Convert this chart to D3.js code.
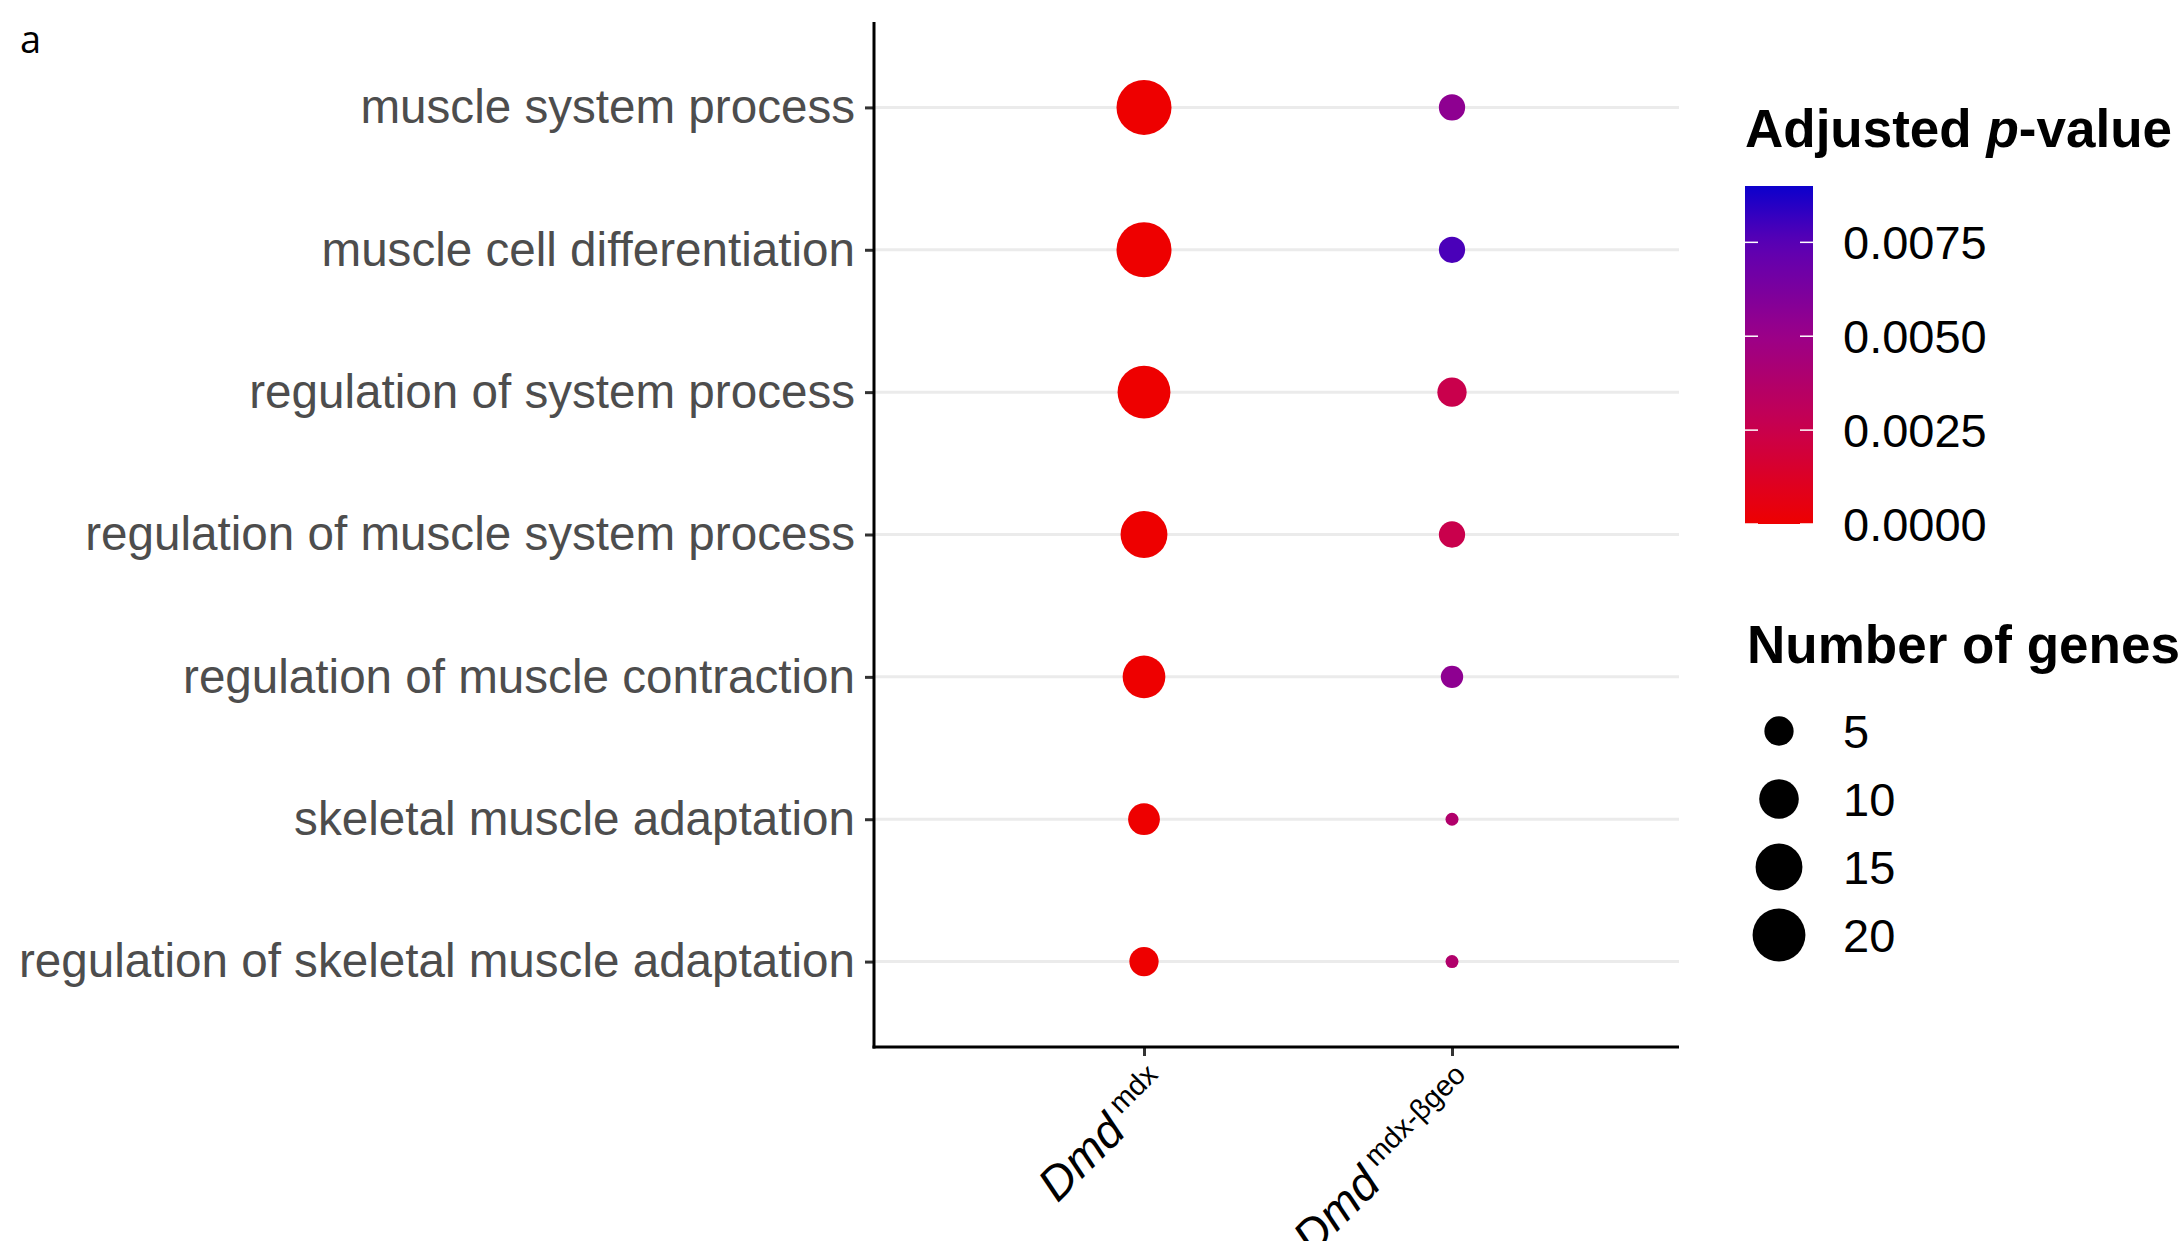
<!DOCTYPE html>
<html>
<head>
<meta charset="utf-8">
<script src="https://cdn.jsdelivr.net/npm/d3@7"></script>
<style>
  html, body { margin: 0; padding: 0; background: #fff; }
  svg { display: block; font-family: "Liberation Sans", Arial, sans-serif; }
</style>
</head>
<body>
<svg id="chart" width="2183" height="1241"></svg>
<script>
// ---------------- data ----------------
const terms = [
  "muscle system process",
  "muscle cell differentiation",
  "regulation of system process",
  "regulation of muscle system process",
  "regulation of muscle contraction",
  "skeletal muscle adaptation",
  "regulation of skeletal muscle adaptation"
];
const groups = ["mdx", "mdx-βgeo"];
const genesMdx     = [22, 22, 20, 15, 12, 6, 5];
const genesMdxBgeo = [4, 4, 5, 4, 3, 2, 2];
const padjMdx      = [0.00001, 0.00001, 0.00001, 0.00001, 0.00001, 0.00001, 0.00001];
const padjMdxBgeo  = [0.0055, 0.0078, 0.0025, 0.0025, 0.0055, 0.0038, 0.0038];
const colorTicks = [0.0000, 0.0025, 0.0050, 0.0075];
const colorMax = 0.009;
const sizeBreaks = [5, 10, 15, 20];
const sizeDomain = [2, 22];

const points = [];
terms.forEach((t, i) => {
  points.push({term: t, group: groups[0], genes: genesMdx[i], padj: padjMdx[i]});
  points.push({term: t, group: groups[1], genes: genesMdxBgeo[i], padj: padjMdxBgeo[i]});
});

// ---------------- layout ----------------
const svg = d3.select("#chart");
const panel = {left: 874, right: 1679, top: 22, bottom: 1047};

const y = d3.scalePoint().domain(terms).range([panel.top, panel.bottom]).padding(0.6);
const x = d3.scalePoint().domain(groups).range([1144, 1452]);

// size: area-proportional mapping between radii
const rScale = d3.scaleSqrt().domain([0, sizeDomain[1] - sizeDomain[0]]).range([0, 21]);
const radius = v => 6.5 + rScale(v - sizeDomain[0]);

const color = d3.scaleLinear()
  .domain([0, 0.0025, 0.005, 0.0075, 0.009])
  .range(["#ee0000", "#c9004c", "#9b0088", "#5a00b4", "#0c00cc"])
  .interpolate(d3.interpolateRgb)
  .clamp(true);

// gridlines
svg.append("g").selectAll("line").data(terms).join("line")
  .attr("x1", panel.left).attr("x2", panel.right)
  .attr("y1", d => y(d)).attr("y2", d => y(d))
  .attr("stroke", "#ebebeb").attr("stroke-width", 3);

// points
svg.append("g").selectAll("circle").data(points).join("circle")
  .attr("cx", d => x(d.group)).attr("cy", d => y(d.term))
  .attr("r", d => radius(d.genes))
  .attr("fill", d => color(d.padj));

// y axis
const yAxis = svg.append("g").attr("transform", `translate(${panel.left},0)`)
  .call(d3.axisLeft(y).tickSize(9).tickPadding(10));
yAxis.select(".domain").remove();
yAxis.selectAll(".tick line").attr("stroke", "#333").attr("stroke-width", 3);
yAxis.selectAll(".tick text").attr("fill", "#4d4d4d")
  .style("font-size", "47.6px").style("font-family", "'Liberation Sans', Arial, sans-serif");

// x axis
const xAxis = svg.append("g").attr("transform", `translate(0,${panel.bottom})`)
  .call(d3.axisBottom(x).tickSize(9).tickFormat(""));
xAxis.select(".domain").remove();
xAxis.selectAll(".tick line").attr("stroke", "#333").attr("stroke-width", 3);

// axis lines
svg.append("line").attr("x1", panel.left).attr("x2", panel.left)
  .attr("y1", panel.top).attr("y2", panel.bottom + 1.5)
  .attr("stroke", "#000").attr("stroke-width", 3);
svg.append("line").attr("x1", panel.left - 1.5).attr("x2", panel.right)
  .attr("y1", panel.bottom).attr("y2", panel.bottom)
  .attr("stroke", "#000").attr("stroke-width", 3);

// x tick labels (rotated, italic Dmd with superscript)
groups.forEach(g => {
  const t = svg.append("text")
    .attr("transform", `translate(${x(g) + 28},${panel.bottom + 42}) rotate(-45)`)
    .attr("text-anchor", "end").attr("fill", "#000");
  t.append("tspan").text("Dmd").style("font-style", "italic").style("font-size", "47px");
  t.append("tspan").text(" " + g).attr("dy", -18).style("font-size", "29px");
});

// panel letter
svg.append("text").attr("x", 20).attr("y", 53).text("a")
  .style("font-family", "'Open Sans', sans-serif").style("font-size", "38px").attr("fill", "#000");

// ---------------- colour legend ----------------
const cb = {x: 1745, w: 68, top: 186, bottom: 524};
const legend = svg.append("g");
legend.append("text").attr("x", cb.x).attr("y", 147)
  .style("font-size", "53px").style("font-weight", "bold")
  .call(t => {
    t.append("tspan").text("Adjusted ");
    t.append("tspan").text("p").style("font-style", "italic");
    t.append("tspan").text("-value");
  });

const cbScale = d3.scaleLinear().domain([0, colorMax]).range([cb.bottom, cb.top]);
const defs = svg.append("defs");
const grad = defs.append("linearGradient").attr("id", "cbgrad")
  .attr("x1", 0).attr("x2", 0).attr("y1", 1).attr("y2", 0);
d3.range(0, 1.0001, 0.05).forEach(s => {
  grad.append("stop").attr("offset", s).attr("stop-color", color(s * colorMax));
});
legend.append("rect").attr("x", cb.x).attr("y", cb.top)
  .attr("width", cb.w).attr("height", cb.bottom - cb.top)
  .attr("fill", "url(#cbgrad)");
colorTicks.forEach(v => {
  const yy = cbScale(v);
  legend.append("line").attr("x1", cb.x).attr("x2", cb.x + 13).attr("y1", yy).attr("y2", yy)
    .attr("stroke", "#fff").attr("stroke-width", 1.5);
  legend.append("line").attr("x1", cb.x + cb.w - 13).attr("x2", cb.x + cb.w).attr("y1", yy).attr("y2", yy)
    .attr("stroke", "#fff").attr("stroke-width", 1.5);
  legend.append("text").attr("x", 1843).attr("y", yy).attr("dy", "0.36em")
    .text(d3.format(".4f")(v)).style("font-size", "47px").attr("fill", "#000");
});

// ---------------- size legend ----------------
legend.append("text").attr("x", 1747).attr("y", 663)
  .text("Number of genes").style("font-size", "53px").style("font-weight", "bold");
const sizeY = d3.scalePoint().domain(sizeBreaks).range([731, 935]);
sizeBreaks.forEach(v => {
  legend.append("circle").attr("cx", 1779).attr("cy", sizeY(v)).attr("r", radius(v)).attr("fill", "#000");
  legend.append("text").attr("x", 1843).attr("y", sizeY(v)).attr("dy", "0.36em")
    .text(v).style("font-size", "47px").attr("fill", "#000");
});
</script>
</body>
</html>
